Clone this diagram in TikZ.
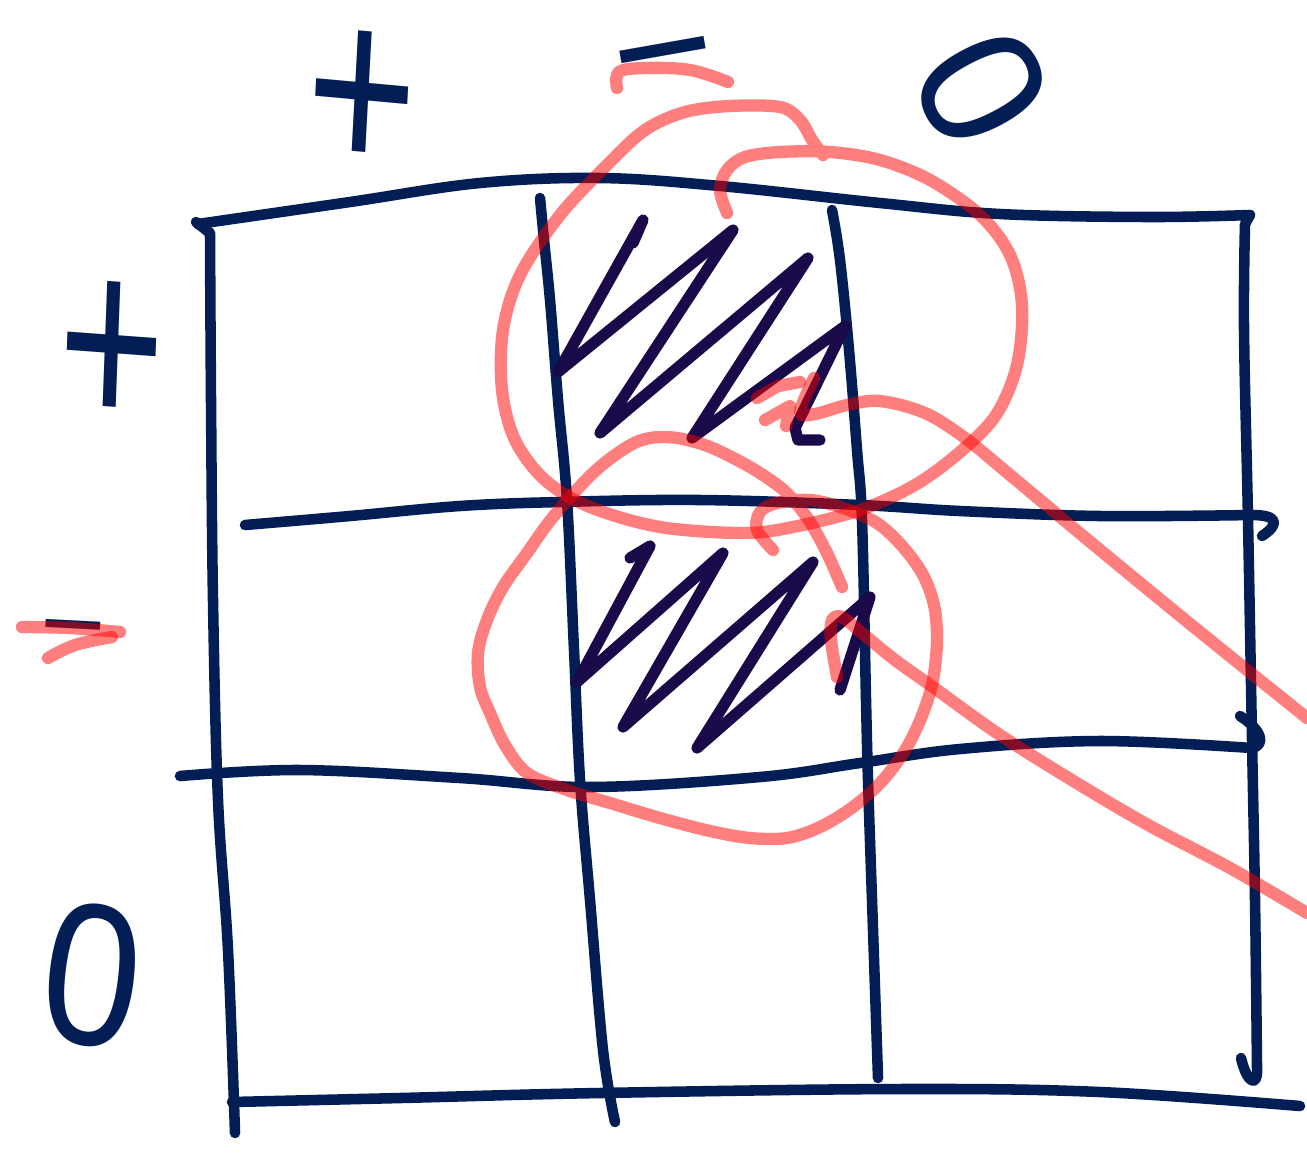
\documentclass[tikz,border=0pt]{standalone}
\usepackage{fontspec}
\setmainfont{Liberation Sans}
\begin{document}
\begin{tikzpicture}[x=0.01cm,y=-0.01cm,line cap=round,line join=round]
\definecolor{navy}{RGB}{2,30,84}
\definecolor{hatchc}{RGB}{26,10,74}
\tikzset{
  gridline/.style={draw=navy,line width=3pt},
  hatchline/.style={draw=hatchc,line width=3.2pt},
  redline/.style={draw=red,draw opacity=0.5,line width=3.5pt},
  lbl/.style={text=navy,inner sep=0pt,outer sep=0pt},
}
\useasboundingbox[fill=white] (0,0) rectangle (1307,1154);

% ---- labels ----
\node[lbl,font=\fontsize{54}{54}\selectfont,yscale=1.3,rotate=-4] (tplus) at (362,102) {+};
\node[lbl,font=\fontsize{50}{50}\selectfont,rotate=10] (tminus) at (667,76) {−};
\node[lbl,font=\fontsize{50}{50}\selectfont,rotate=-62] (tzero) at (982,88) {0};
\node[lbl,font=\fontsize{52}{52}\selectfont,yscale=1.4,rotate=-3] (lplus) at (112,356) {+};
\node[lbl,font=\fontsize{32}{32}\selectfont,rotate=-3] (lminus) at (72,642) {−};
\node[lbl,font=\fontsize{50}{50}\selectfont,yscale=1.15,rotate=-8] (lzero) at (92,975) {0};

% ---- grid ----
\draw[gridline] plot[smooth,tension=0.6] coordinates {(198,224) (350,202) (480,183) (600,178) (720,186) (880,203) (1000,214) (1150,217) (1250,215)};
\draw[gridline] (1250,215) -- (1245,224)
  plot[smooth,tension=0.6] coordinates {(1245,224) (1244,330) (1248,520) (1252,740) (1255,900) (1257,1068)}
  .. controls (1258,1088) and (1247,1084) .. (1241,1058);
\draw[gridline] (196,222) -- (210,233)
  plot[smooth,tension=0.6] coordinates {(210,233) (211,400) (213,600) (218,800) (228,950) (235,1133)};
\draw[gridline] plot[smooth,tension=0.6] coordinates {(232,1102) (400,1098) (600,1093) (900,1089) (1100,1092) (1300,1106)};
\draw[gridline] plot[smooth,tension=0.6] coordinates {(245,525) (350,516) (460,506) (560,502) (700,500) (860,505) (960,511) (1100,516) (1252,515)}
  .. controls (1278,515) and (1280,524) .. (1262,536);
\draw[gridline] plot[smooth,tension=0.6] coordinates {(180,776) (300,770) (460,778) (590,787) (760,777) (860,763) (960,749) (1100,741) (1252,748)}
  .. controls (1266,745) and (1262,730) .. (1240,716);
\draw[gridline] plot[smooth,tension=0.6] coordinates {(540,198) (544,240) (550,300) (558,400) (567,500) (574,650) (580,780) (590,900) (603,1050) (615,1122)};
\draw[gridline] plot[smooth,tension=0.6] coordinates {(832,210) (840,260) (849,350) (857,450) (862,520) (866,700) (868,780) (872,900) (878,1078)};

% ---- hatching ----
\draw[hatchline] (633,243) -- (643,220) -- (558,372) -- (733,230) -- (600,433) -- (808,258) -- (692,438) -- (845,326) -- (795,428) -- (798,440) -- (820,440);
\draw[hatchline] (630,558) -- (650,546) -- (577,682) -- (723,553) -- (623,727) -- (813,562) -- (697,748) -- (870,597) -- (840,690);

% ---- red strokes ----
\draw[redline] plot[smooth,tension=0.6] coordinates {(617,88) (619,72) (645,68) (690,70) (728,82)};
\draw[redline] plot[smooth,tension=0.6] coordinates {(22,627) (70,628) (120,632)};
\draw[redline] plot[smooth,tension=0.6] coordinates {(112,637) (75,645) (48,658)};
\draw[redline] plot[smooth,tension=0.55] coordinates {(727,213) (720,190) (727,170) (745,157) (780,152) (830,152) (880,160) (930,180) (980,215) (1010,255) (1022,305) (1017,365) (996,415) (960,452) (915,485) (860,510) (793,527) (743,533) (660,527) (590,507) (545,480) (515,440) (502,390) (503,330) (520,275) (560,215) (607,165) (645,130) (685,112) (730,106) (780,107) (800,120) (812,140) (823,155)};
\draw[redline] (757,398) -- (778,386) -- (800,382) (765,420) -- (790,406) -- (786,426);
\draw[redline] plot[smooth,tension=0.55] coordinates {(814,378) (800,412) (815,414) (847,405) (880,401) (925,413) (965,438) (1010,475) (1100,550) (1200,632) (1307,718)};
\draw[redline] plot[smooth,tension=0.55] coordinates {(773,550) (757,530) (760,512) (777,503) (810,500) (843,508) (877,523) (903,547) (923,575) (934,605) (937,640) (933,680) (923,713) (907,747) (883,780) (853,807) (820,827) (787,838) (750,838) (710,831) (660,818) (610,803) (567,790) (527,773) (505,745) (490,713) (480,687) (478,653) (487,620) (503,587) (527,553) (553,517) (593,473) (627,447) (650,438) (677,438) (710,447) (750,467) (780,487) (795,502) (810,522) (827,553) (842,587)};
\draw[redline] plot[smooth,tension=0.55] coordinates {(837,677) (831,640) (832,620) (842,617) (862,633) (895,660) (933,687) (1000,735) (1080,785) (1150,826) (1230,868) (1307,913)};
\end{tikzpicture}
\end{document}
